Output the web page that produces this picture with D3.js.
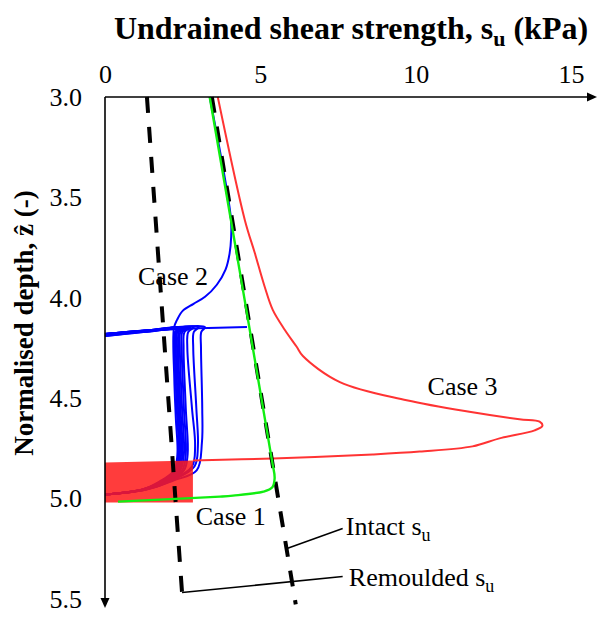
<!DOCTYPE html>
<html>
<head>
<meta charset="utf-8">
<script src="https://cdn.jsdelivr.net/npm/d3@7"></script>
<style>
body { margin: 0; background: #fff; }
text { font-family: "Liberation Serif", "Times New Roman", serif; fill: #000; }
</style>
</head>
<body>
<div class="chart"></div>
<script>
var svgWidth = 598;
var svgHeight = 617;

// tick values
var xTicks = [0, 5, 10, 15];
var yTicks = [3.0, 3.5, 4.0, 4.5, 5.0, 5.5];

// reference profiles [su (kPa), z]
var intactSu = [[3.44, 3.0], [6.14, 5.527]];
var remouldedSu = [[1.35, 3.0], [2.48, 5.468]];

// Case 1 (green)
var case1 = [[3.37, 3.00], [5.37, 4.806], [5.46, 4.90], [5.38, 4.945], [5.10, 4.965], [4.12, 4.985], [3.70, 4.99], [0.42, 5.015]];

// Case 2 (blue) - one profile from the top, then the bundle
var case2Top = [[3.37, 3.00], [4.05, 3.60], [4.06, 3.70], [4.01, 3.78], [3.88, 3.86], [3.60, 3.935], [3.22, 3.995], [2.85, 4.03], [2.50, 4.065], [2.32, 4.11], [2.22, 4.15], [2.23, 4.40], [2.28, 4.60], [2.33, 4.78], [2.22, 4.86], [1.75, 4.915], [1.20, 4.955], [0.00, 4.98]];
var case2Flat = [[0.00, 4.18], [1.50, 4.162], [3.00, 4.152], [4.57, 4.145]];
var case2a = [[0.00, 4.18], [1.50, 4.16], [2.42, 4.146], [2.25, 4.17], [2.24, 4.25], [2.31, 4.55], [2.37, 4.78], [2.26, 4.86], [1.80, 4.915], [1.20, 4.955], [0.00, 4.98]];
var case2b = [[0.00, 4.182], [1.50, 4.162], [2.47, 4.148], [2.29, 4.17], [2.28, 4.25], [2.35, 4.55], [2.41, 4.78], [2.30, 4.86], [1.83, 4.915], [1.21, 4.955], [0.00, 4.98]];
var case2c = [[0.00, 4.184], [1.50, 4.163], [2.52, 4.148], [2.33, 4.17], [2.32, 4.25], [2.39, 4.55], [2.45, 4.78], [2.34, 4.86], [1.86, 4.915], [1.22, 4.955], [0.00, 4.98]];
var case2d = [[0.00, 4.186], [1.50, 4.164], [2.57, 4.149], [2.38, 4.17], [2.36, 4.25], [2.43, 4.55], [2.49, 4.78], [2.38, 4.86], [1.89, 4.915], [1.23, 4.955], [0.00, 4.98]];
var case2e = [[0.00, 4.188], [1.50, 4.165], [2.62, 4.15], [2.43, 4.17], [2.41, 4.25], [2.48, 4.55], [2.54, 4.78], [2.42, 4.86], [1.92, 4.915], [1.24, 4.955], [0.00, 4.98]];
var case2f = [[0.00, 4.19], [1.50, 4.166], [2.68, 4.15], [2.49, 4.17], [2.47, 4.25], [2.54, 4.55], [2.60, 4.78], [2.48, 4.86], [1.96, 4.915], [1.26, 4.955], [0.00, 4.98]];
var case2g = [[0.00, 4.19], [1.50, 4.166], [2.75, 4.15], [2.56, 4.17], [2.53, 4.25], [2.60, 4.55], [2.66, 4.78], [2.54, 4.86], [2.00, 4.915], [1.28, 4.955], [0.00, 4.98]];
var case2h = [[0.00, 4.18], [1.50, 4.16], [2.86, 4.146], [2.68, 4.17], [2.65, 4.25], [2.80, 4.55], [2.90, 4.74], [2.80, 4.84], [2.10, 4.91], [1.30, 4.955], [0.00, 4.98]];
var case2i = [[0.00, 4.18], [1.50, 4.16], [3.02, 4.146], [2.86, 4.17], [2.84, 4.25], [2.94, 4.55], [2.99, 4.74], [2.88, 4.84], [2.15, 4.91], [1.32, 4.955], [0.00, 4.98]];
var case2j = [[0.00, 4.18], [1.50, 4.16], [3.22, 4.146], [3.10, 4.17], [3.09, 4.25], [3.13, 4.55], [3.12, 4.72], [2.95, 4.86], [2.20, 4.91], [1.34, 4.955], [0.00, 4.98]];

// Case 3 (red)
var case3 = [[3.63, 3.00], [4.50, 3.612], [4.82, 3.776], [5.14, 3.945], [5.40, 4.06], [5.79, 4.16], [6.17, 4.244], [6.37, 4.29], [7.56, 4.42], [9.71, 4.51], [11.83, 4.57], [13.34, 4.605], [13.99, 4.617], [14.08, 4.637], [13.83, 4.66], [12.70, 4.70], [11.83, 4.74], [10.13, 4.766], [8.62, 4.78], [5.40, 4.80], [2.83, 4.81]];
var case3Zone = [[0.00, 4.82], [2.83, 4.81], [2.83, 5.02], [0.00, 5.02]];

// labels [text, su, z]
var caseLabels = [["Case 1", 4.05, 5.13], ["Case 2", 2.19, 3.935], ["Case 3", 11.51, 4.483]];
var intactLeader = [[5.88, 5.247], [7.65, 5.149]];
var remouldedLeader = [[2.48, 5.468], [7.65, 5.388]];

var svg = d3.select(".chart")
    .append("svg")
    .attr("width", svgWidth)
    .attr("height", svgHeight);

var x = d3.scaleLinear().domain([0, 15]).range([105, 571]);
var y = d3.scaleLinear().domain([3, 5.5]).range([97, 599]);

var line = d3.line()
    .x(d => x(d[0]))
    .y(d => y(d[1]))
    .curve(d3.curveCatmullRom.alpha(0.5));

var straight = d3.line()
    .x(d => x(d[0]))
    .y(d => y(d[1]));

// Case 2 lines
var blueLines = [case2Flat, case2a, case2b, case2c, case2d, case2e, case2f, case2g, case2h, case2i, case2j, case2Top];
svg.append("g").selectAll("path")
    .data(blueLines)
    .enter()
    .append("path")
    .attr("d", d => line(d))
    .attr("fill", "none")
    .attr("stroke", "#0000ff")
    .attr("stroke-width", 2);

// Case 3
svg.append("path")
    .attr("d", line(case3))
    .attr("fill", "none")
    .attr("stroke", "#ff3333")
    .attr("stroke-width", 2);

svg.append("path")
    .attr("d", straight(case3Zone) + "Z")
    .attr("fill", "#ff1a1a")
    .attr("opacity", 0.85);

// intact and remoulded
svg.append("g").selectAll("path")
    .data([intactSu, remouldedSu])
    .enter()
    .append("path")
    .attr("d", d => straight(d))
    .attr("fill", "none")
    .attr("stroke", "#000")
    .attr("stroke-width", 4)
    .attr("stroke-dasharray", "16,14");

// Case 1
svg.append("path")
    .attr("d", line(case1))
    .attr("fill", "none")
    .attr("stroke", "#11ee11")
    .attr("stroke-width", 2.4);

// leaders
svg.append("g").selectAll("path")
    .data([intactLeader, remouldedLeader])
    .enter()
    .append("path")
    .attr("d", d => straight(d))
    .attr("stroke", "#000")
    .attr("stroke-width", 1.5);

svg.append("g").selectAll("text")
    .data(caseLabels)
    .enter()
    .append("text")
    .attr("x", d => x(d[1]))
    .attr("y", d => y(d[2]))
    .attr("text-anchor", "middle")
    .style("font-size", "26px")
    .text(d => d[0]);

var intactText = svg.append("text")
    .attr("x", x(7.75))
    .attr("y", y(5.183))
    .style("font-size", "26px");
intactText.append("tspan").text("Intact s");
intactText.append("tspan").attr("dy", 6).style("font-size", "18px").text("u");

var remText = svg.append("text")
    .attr("x", x(7.85))
    .attr("y", y(5.437))
    .style("font-size", "26px");
remText.append("tspan").text("Remoulded s");
remText.append("tspan").attr("dy", 6).style("font-size", "18px").text("u");

// axes
var topAxis = d3.axisTop(x).tickValues(xTicks).tickSize(0).tickPadding(14);
var leftAxis = d3.axisLeft(y).tickValues(yTicks).tickSize(0).tickPadding(23).tickFormat(d3.format(".1f"));

var gx = svg.append("g").attr("transform", "translate(0," + y(3) + ")").call(topAxis);
var gy = svg.append("g").attr("transform", "translate(" + x(0) + ",0)").call(leftAxis);
gx.select(".domain").remove();
gy.select(".domain").remove();
gx.selectAll("text").style("font-size", "26px").style("font-family", "Liberation Serif").attr("fill", "#000");
gy.selectAll("text").style("font-size", "26px").style("font-family", "Liberation Serif").attr("fill", "#000");

svg.append("line")
    .attr("x1", x(0)).attr("y1", y(3))
    .attr("x2", 590).attr("y2", y(3))
    .attr("stroke", "#000").attr("stroke-width", 1.6);
svg.append("path")
    .attr("d", "M597," + y(3) + "L587," + (y(3) - 4.5) + "L587," + (y(3) + 4.5) + "Z")
    .attr("fill", "#000");
svg.append("line")
    .attr("x1", x(0)).attr("y1", y(3))
    .attr("x2", x(0)).attr("y2", 601)
    .attr("stroke", "#000").attr("stroke-width", 1.6);
svg.append("path")
    .attr("d", "M" + x(0) + ",608L" + (x(0) - 4.5) + ",598L" + (x(0) + 4.5) + ",598Z")
    .attr("fill", "#000");

// axis titles
var title = svg.append("text")
    .attr("x", 351)
    .attr("y", 39)
    .attr("text-anchor", "middle")
    .style("font-size", "32px")
    .style("font-weight", "bold");
title.append("tspan").text("Undrained shear strength, s");
title.append("tspan").attr("dy", 7).style("font-size", "22px").text("u");
title.append("tspan").attr("dy", -7).text(" (kPa)");

svg.append("text")
    .attr("transform", "translate(33,323) rotate(-90)")
    .attr("text-anchor", "middle")
    .style("font-size", "27px")
    .style("font-weight", "bold")
    .text("Normalised depth, \u1E91 (-)");
</script>
</body>
</html>
